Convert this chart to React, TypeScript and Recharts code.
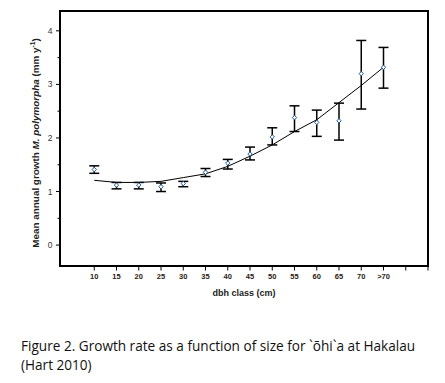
import React from 'react';
import { ComposedChart, Scatter, Line, XAxis, YAxis, ErrorBar, ReferenceArea } from 'recharts';

const categories = ['10', '15', '20', '25', '30', '35', '40', '45', '50', '55', '60', '65', '70', '>70'];
const meanGrowth = [1.41, 1.12, 1.12, 1.09, 1.15, 1.36, 1.53, 1.7, 2.02, 2.38, 2.29, 2.32, 3.2, 3.32];
const lowerBound = [1.34, 1.05, 1.05, 1.0, 1.09, 1.28, 1.42, 1.59, 1.87, 2.12, 2.03, 1.96, 2.54, 2.93];
const upperBound = [1.48, 1.17, 1.17, 1.16, 1.19, 1.43, 1.6, 1.83, 2.19, 2.6, 2.52, 2.65, 3.82, 3.69];
const fittedCurve = [1.21, 1.17, 1.17, 1.19, 1.26, 1.33, 1.47, 1.66, 1.87, 2.12, 2.34, 2.66, 2.98, 3.32];
const xTicks = [0, 1, 2, 3, 4, 5, 6, 7, 8, 9, 10, 11, 12, 13, 14, 15];
const yTicks = [0, 0.5, 1, 1.5, 2, 2.5, 3, 3.5, 4];

const X_DOMAIN: [number, number] = [-1.54, 15];
const Y_DOMAIN: [number, number] = [-0.39, 4.37];

const data = categories.map((c, i) => ({
  idx: i,
  cat: c,
  mean: meanGrowth[i],
  fit: fittedCurve[i],
  err: [meanGrowth[i] - lowerBound[i], upperBound[i] - meanGrowth[i]],
}));

const YTick = (props: any) => {
  const { x, y, payload } = props;
  const v = payload.value;
  const major = Number.isInteger(v);
  const axisX = x + 6;
  return (
    <g>
      <line x1={axisX - (major ? 4 : 2.5)} x2={axisX} y1={y} y2={y} stroke="#000" strokeWidth={1} />
      {major && (
        <text x={x - 1.5} y={y} dy={3} textAnchor="end" fontSize={8.5} fill="#333" fontFamily="Liberation Sans, Arial, sans-serif">
          {v}
        </text>
      )}
    </g>
  );
};

const XTick = (props: any) => {
  const { x, y, payload } = props;
  const label = categories[payload.value] ?? '';
  return (
    <text x={x} y={y} dy={6} textAnchor="middle" fontSize={7.5} fontWeight="bold" fill="#2a2010" fontFamily="Liberation Sans, Arial, sans-serif">
      {label}
    </text>
  );
};

const Marker = (props: any) => {
  const { cx, cy } = props;
  if (cx == null || cy == null) return null;
  const s = 2.2;
  return (
    <path
      d={`M${cx},${cy - s}L${cx + s},${cy}L${cx},${cy + s}L${cx - s},${cy}Z`}
      fill="#fff"
      stroke="#1f5a9a"
      strokeWidth={1}
    />
  );
};

export default function App() {
  return (
    <div style={{ position: 'absolute', left: 0, top: 0, width: 445, height: 383, background: '#fff' }}>
      <ComposedChart width={445} height={310} data={data} margin={{ top: 11, right: 17, bottom: 0, left: 0 }}>
        <XAxis
          dataKey="idx"
          type="number"
          domain={X_DOMAIN}
          allowDataOverflow
          ticks={xTicks}
          interval={0}
          tick={<XTick />}
          tickSize={4.5}
          tickLine={{ stroke: '#000', strokeWidth: 1 }}
          axisLine={{ stroke: '#000', strokeWidth: 2 }}
          height={44}
        />
        <YAxis
          type="number"
          domain={Y_DOMAIN}
          allowDataOverflow
          ticks={yTicks}
          interval={0}
          width={60}
          tickSize={4}
          tickMargin={2}
          tickLine={false}
          tick={<YTick />}
          axisLine={{ stroke: '#000', strokeWidth: 2 }}
        />
        <ReferenceArea
          x1={X_DOMAIN[0]}
          x2={X_DOMAIN[1]}
          y1={Y_DOMAIN[0]}
          y2={Y_DOMAIN[1]}
          fill="none"
          stroke="#000"
          strokeWidth={2}
          ifOverflow="visible"
        />
        <Line dataKey="fit" type="linear" stroke="#000" strokeWidth={1} dot={false} isAnimationActive={false} />
        <Scatter dataKey="mean" shape={<Marker />} isAnimationActive={false}>
          <ErrorBar dataKey="err" direction="y" width={5} stroke="#000" strokeWidth={1.5} isAnimationActive={false} />
        </Scatter>
      </ComposedChart>
      <div
        style={{
          position: 'absolute',
          left: 35,
          top: 143,
          transform: 'translate(-50%, -50%) rotate(-90deg)',
          whiteSpace: 'nowrap',
          fontFamily: 'Liberation Sans, Arial, sans-serif',
          fontWeight: 'bold',
          fontSize: 9.9,
          color: '#222',
        }}
      >
        Mean annual growth <i>M. polymorpha</i> (mm y<sup style={{ fontSize: 6.5 }}>-1</sup>)
      </div>
      <div
        style={{
          position: 'absolute',
          left: 244,
          top: 293,
          transform: 'translate(-50%, -50%)',
          whiteSpace: 'nowrap',
          fontFamily: 'Liberation Sans, Arial, sans-serif',
          fontWeight: 'bold',
          fontSize: 9,
          color: '#222',
        }}
      >
        dbh class (cm)
      </div>
      <div
        style={{
          position: 'absolute',
          left: 21,
          top: 336,
          width: 424,
          fontFamily: '"Open Sans", "Noto Sans", sans-serif',
          fontSize: 13.6,
          lineHeight: '19px',
          color: '#111',
        }}
      >
        Figure 2. Growth rate as a function of size for `ōhi`a at Hakalau
        <br />
        (Hart 2010)
      </div>
    </div>
  );
}
